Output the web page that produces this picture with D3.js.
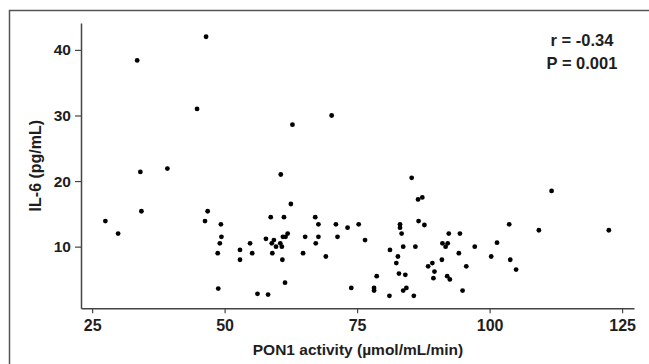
<!DOCTYPE html>
<html>
<head>
<meta charset="utf-8">
<script src="https://cdn.jsdelivr.net/npm/d3@7"></script>
<style>
  body { margin: 0; background: #fff; }
  svg { display: block; font-family: "Liberation Sans", Arial, sans-serif; }
</style>
</head>
<body>
<div class="container"></div>
<script>
// PON1 activity (x) against IL-6 (y), one entry per subject
const pon1 = [27.5, 29.9, 33.5, 34.1, 34.3, 39.2, 44.8, 46.3, 46.5, 46.8,
  48.7, 48.8, 49.1, 49.3, 49.4, 52.9, 52.9, 54.8, 55.2, 56.2,
  57.8, 58.2, 58.7, 58.9, 59.0, 59.3, 59.7, 60.5, 60.6, 60.8,
  60.9, 61.0, 61.2, 61.4, 61.5, 61.9, 62.5, 62.8, 64.8, 65.2,
  67.1, 67.2, 67.7, 67.7, 69.1, 70.2, 71.0, 71.3, 73.2, 73.9,
  75.3, 76.5, 78.2, 78.2, 78.7, 81.1, 81.2, 82.4, 82.7, 82.9,
  83.1, 83.1, 83.4, 83.7, 83.7, 84.1, 84.3, 85.3, 85.7, 86.0,
  86.5, 86.6, 87.3, 87.7, 88.4, 89.2, 89.4, 89.6, 91.0, 91.1,
  91.7, 92.0, 92.1, 92.3, 92.5, 94.2, 94.4, 94.9, 95.6, 97.2,
  100.3, 101.4, 103.7, 103.9, 105.0, 109.3, 111.7, 122.5];
const il6 = [13.9, 12.0, 38.4, 21.4, 15.4, 21.9, 31.0, 13.9, 42.0, 15.4,
  9.0, 3.6, 10.5, 13.4, 11.5, 9.5, 8.0, 10.5, 9.0, 2.8,
  11.2, 2.7, 14.5, 10.5, 9.0, 11.0, 10.0, 10.5, 21.0, 10.0,
  8.0, 11.5, 14.5, 4.5, 11.5, 12.0, 16.5, 28.6, 9.0, 11.5,
  14.5, 10.5, 13.4, 11.5, 8.5, 30.0, 13.4, 11.5, 12.9, 3.7,
  13.4, 11.0, 3.7, 3.3, 5.5, 2.5, 9.5, 7.5, 8.5, 5.9,
  13.4, 12.9, 12.0, 10.0, 3.3, 5.7, 3.7, 20.5, 2.5, 10.0,
  17.2, 13.9, 17.5, 13.3, 7.0, 7.5, 5.2, 6.2, 8.0, 10.5,
  10.0, 5.5, 10.5, 12.0, 5.0, 9.0, 12.0, 3.3, 7.0, 10.0,
  8.5, 10.6, 13.4, 8.0, 6.5, 12.5, 18.5, 12.5];
const xTicks = [25, 50, 75, 100, 125];
const yTicks = [10, 20, 30, 40];
const statLines = ["r = -0.34", "P = 0.001"];

const viewWidth = 649, viewHeight = 364;
const plotLeft = 81, plotRight = 634, plotTop = 23, plotBottom = 308.3;

const points = pon1.map((v, i) => ({x: v, y: il6[i]}));

const xScale = d3.scaleLinear().domain([22.9, 127.25]).range([plotLeft, plotRight]);
const yScale = d3.scaleLinear().domain([0.6, 44.1]).range([plotBottom, plotTop]);

const svg = d3.select('.container')
  .append('svg')
  .attr('width', viewWidth)
  .attr('height', viewHeight);

// outer frame, only its top and left edges fall inside the picture
svg.append('rect')
  .attr('x', 9.5).attr('y', 10.5)
  .attr('width', viewWidth + 20).attr('height', viewHeight + 20)
  .attr('fill', 'none')
  .attr('stroke', '#555')
  .attr('stroke-width', 1.5);

const xAxis = d3.axisBottom(xScale)
  .tickValues(xTicks)
  .tickSizeInner(5)
  .tickSizeOuter(0)
  .tickPadding(6);

const yAxis = d3.axisLeft(yScale)
  .tickValues(yTicks)
  .tickSizeInner(6)
  .tickSizeOuter(0)
  .tickPadding(4);

const gx = svg.append('g')
  .attr('transform', 'translate(0,' + plotBottom + ')')
  .call(xAxis);

const gy = svg.append('g')
  .attr('transform', 'translate(' + plotLeft + ',0)')
  .call(yAxis);

[gx, gy].forEach(g => {
  g.select('.domain').attr('stroke', '#444').attr('stroke-width', 1.5);
  g.selectAll('.tick line').attr('stroke', '#444').attr('stroke-width', 1.2);
  g.selectAll('.tick text')
    .attr('fill', '#1e1e1e')
    .style('font-size', '15.5px')
    .style('font-weight', 'bold')
    .style('font-family', '"Liberation Sans", Arial, sans-serif');
});
gx.selectAll('.tick text').style('font-size', '16px');

svg.append('g')
  .selectAll('circle')
  .data(points)
  .enter()
  .append('circle')
  .attr('cx', d => xScale(d.x))
  .attr('cy', d => yScale(d.y))
  .attr('r', 2.4)
  .attr('fill', '#000');

svg.append('text')
  .attr('x', 358)
  .attr('y', 355)
  .attr('text-anchor', 'middle')
  .attr('fill', '#1e1e1e')
  .style('font-size', '15.5px')
  .style('font-weight', 'bold')
  .text('PON1 activity (µmol/mL/min)');

svg.append('text')
  .attr('transform', 'translate(41,' + ((plotTop + plotBottom) / 2) + ') rotate(-90)')
  .attr('text-anchor', 'middle')
  .attr('fill', '#1e1e1e')
  .style('font-size', '16px')
  .style('font-weight', 'bold')
  .text('IL-6 (pg/mL)');

svg.append('g')
  .selectAll('text')
  .data(statLines)
  .enter()
  .append('text')
  .attr('x', 582)
  .attr('y', (d, i) => 46 + i * 23)
  .attr('text-anchor', 'middle')
  .attr('fill', '#1e1e1e')
  .style('font-size', '16.5px')
  .style('font-weight', 'bold')
  .text(d => d);
</script>
</body>
</html>
